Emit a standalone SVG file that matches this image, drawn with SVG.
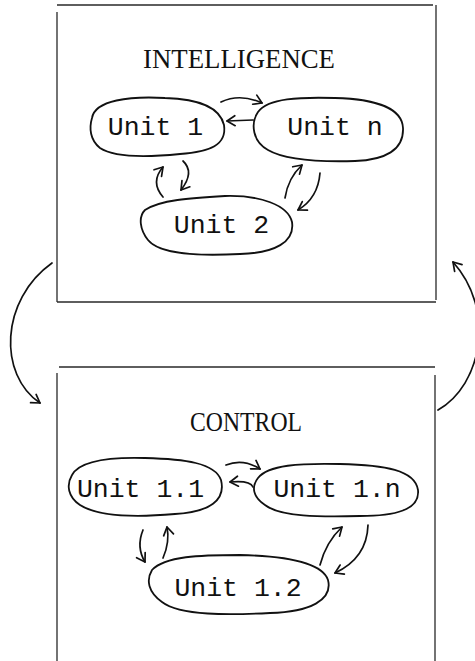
<svg xmlns="http://www.w3.org/2000/svg" width="475" height="661" viewBox="0 0 475 661">
<style>
.box{fill:none;stroke:#2a2a2a;stroke-width:1.3}
.blob{fill:none;stroke:#111;stroke-width:1.8;stroke-linejoin:round}
.lbl{font-family:"Liberation Mono",monospace;font-size:26.5px;fill:#111;text-anchor:middle}
.title{font-family:"Liberation Serif",serif;fill:#111;text-anchor:middle}
.con{fill:none;stroke:#111;stroke-width:1.7;stroke-linecap:round;marker-end:url(#ah)}
</style>
<defs>
<marker id="ah" markerUnits="userSpaceOnUse" markerWidth="16" markerHeight="16" viewBox="-10 -8 12 16" refX="0" refY="0" orient="auto">
<path d="M-8,-5 L0,0 L-8,5" fill="none" stroke="#111" stroke-width="1.7" stroke-linecap="round" stroke-linejoin="round"/>
</marker>
</defs>
<rect width="475" height="661" fill="#fff"/>
<g id="intelligence">
<path class="box" d="M57,5 L433,5 M57,12 L57,302 M436,5 L436,300 M57,302 L436,302"/>
<text class="title" x="239" y="68" font-size="27" textLength="192" lengthAdjust="spacingAndGlyphs">INTELLIGENCE</text>
</g>
<g id="unit1">
<path class="blob" d="M92,118 C95,100 130,96 165,98 C200,99 220,108 224,125 C227,145 210,152 180,154 C150,157 115,158 100,148 C90,140 89,128 92,118 Z"/>
<text class="lbl" x="155.5" y="135">Unit 1</text>
</g>
<g id="unitn">
<path class="blob" d="M258,112 C268,98 300,97 335,98 C375,99 402,108 403,128 C404,150 385,160 355,161 C320,162 285,160 268,150 C253,142 250,124 258,112 Z"/>
<text class="lbl" x="335" y="135">Unit n</text>
</g>
<g id="unit2">
<path class="blob" d="M145,210 C160,200 190,198 225,196 C260,195 288,205 292,222 C295,242 275,253 240,254 C200,256 160,255 148,240 C140,230 138,217 145,210 Z"/>
<text class="lbl" x="221.5" y="233">Unit 2</text>
</g>
<g id="control">
<path class="box" d="M59,367 L435,367 M57,373 L57,661 M435,375 L435,661"/>
<text class="title" x="246" y="431" font-size="28" textLength="112" lengthAdjust="spacingAndGlyphs">CONTROL</text>
</g>
<g id="unit1_1">
<path class="blob" d="M72,475 C80,460 110,457 145,458 C185,459 215,463 221,480 C226,500 210,512 175,514 C140,517 100,518 80,505 C68,497 66,485 72,475 Z"/>
<text class="lbl" x="140.5" y="497">Unit 1.1</text>
</g>
<g id="unit1_n">
<path class="blob" d="M258,478 C268,465 300,463 340,464 C385,465 415,470 418,490 C420,510 395,516 360,516 C320,517 280,517 265,505 C253,497 251,487 258,478 Z"/>
<text class="lbl" x="337" y="497">Unit 1.n</text>
</g>
<g id="unit1_2">
<path class="blob" d="M152,570 C165,556 200,555 240,555 C285,556 322,562 328,580 C333,600 310,612 270,613 C230,615 180,616 162,602 C148,592 146,580 152,570 Z"/>
<text class="lbl" x="238" y="596">Unit 1.2</text>
</g>
<g id="connectors">
<path class="con" d="M221,102 Q240,93 262,103"/>
<path class="con" d="M253,120 L227,121"/>
<path class="con" d="M163,197 Q150,182 163,167"/>
<path class="con" d="M183,161 Q195,172 181,190"/>
<path class="con" d="M285,198 Q288,178 302,165"/>
<path class="con" d="M320,173 Q318,198 298,210"/>
<path class="con" d="M226,465 Q243,458 260,469"/>
<path class="con" d="M253,487 Q250,480 230,482"/>
<path class="con" d="M143,530 Q136,547 145,562"/>
<path class="con" d="M163,558 Q170,542 167,527"/>
<path class="con" d="M320,565 Q326,542 342,527"/>
<path class="con" d="M368,525 Q367,558 335,573"/>
<path class="con" d="M52,263 C0,300 -2,375 40,403"/>
<path class="con" d="M438,410 C482,385 496,310 453,262"/>
</g>
</svg>
